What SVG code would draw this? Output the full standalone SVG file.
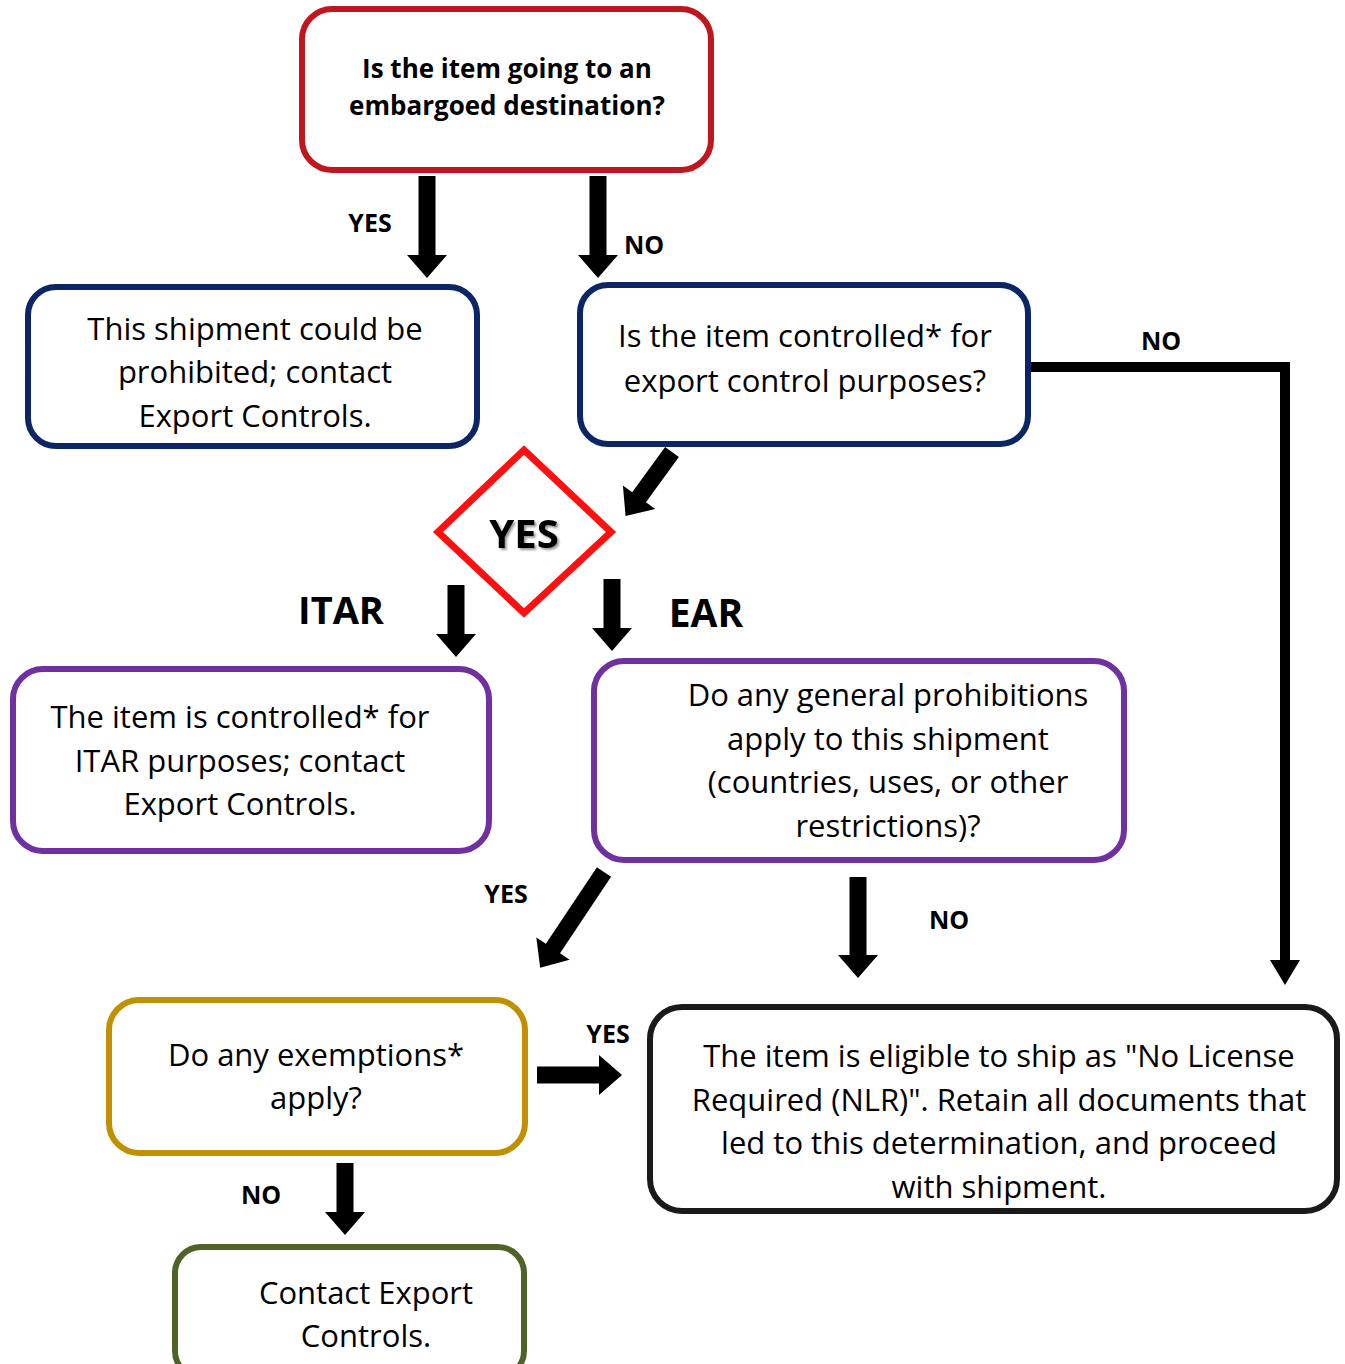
<svg xmlns="http://www.w3.org/2000/svg" width="1345" height="1364" viewBox="0 0 1345 1364">
<defs>
<filter id="shadow" x="-20%" y="-20%" width="140%" height="140%">
<feDropShadow dx="2" dy="2" stdDeviation="1.2" flood-color="#000" flood-opacity="0.4"/>
</filter>
</defs>
<style>
.box{fill:#fff;stroke-width:6}
.t{font-family:"Open Sans","Liberation Sans",sans-serif;font-size:31px;fill:#000;text-anchor:middle}
.b{font-family:"Open Sans","Liberation Sans",sans-serif;font-weight:bold;fill:#000;text-anchor:middle}
.lbl{font-size:25px}
.arrow{fill:#000}
</style>
<rect width="1345" height="1364" fill="#fff"/>
<g id="connectors">
<path class="arrow" d="M418.5,176 H435.5 V255 H447 L427,278 L407,255 H418.5 Z"/>
<path class="arrow" d="M589.5,176 H606.5 V255 H618 L598,278 L578,255 H589.5 Z"/>
<path class="arrow" d="M-8.5,0 H8.5 V56 H20 L0,79 L-20,56 H-8.5 Z" transform="translate(672,452) rotate(36)"/>
<path class="arrow" d="M447.5,585 H464.5 V634 H476 L456,657 L436,634 H447.5 Z"/>
<path class="arrow" d="M603.5,579 H620.5 V628 H632 L612,651 L592,628 H603.5 Z"/>
<path class="arrow" d="M-8.5,0 H8.5 V92 H20 L0,115 L-20,92 H-8.5 Z" transform="translate(604,872) rotate(33.7)"/>
<path class="arrow" d="M849.5,877 H866.5 V955 H878 L858,978 L838,955 H849.5 Z"/>
<path class="arrow" d="M537,1066.5 V1083.5 H599 V1095 L622,1075 L599,1055 V1066.5 Z"/>
<path class="arrow" d="M336.5,1163 H353.5 V1212 H365 L345,1235 L325,1212 H336.5 Z"/>
<path d="M1030,367 H1285 V962" fill="none" stroke="#000" stroke-width="10"/>
<path class="arrow" d="M1270,960 H1300 L1285,985 Z"/>
<text class="b lbl" x="370" y="232">YES</text>
<text class="b lbl" x="644" y="254">NO</text>
<text class="b lbl" x="1161" y="350">NO</text>
<text class="b" x="341" y="624" font-size="38">ITAR</text>
<text class="b" x="706" y="627" font-size="39">EAR</text>
<text class="b lbl" x="506" y="903">YES</text>
<text class="b lbl" x="949" y="929">NO</text>
<text class="b lbl" x="608" y="1043">YES</text>
<text class="b lbl" x="261" y="1204">NO</text>
</g>
<g id="n1">
<rect class="box" x="302" y="9" width="409" height="161" rx="30" stroke="#C0171F" stroke-width="7"/>
<text class="b" font-size="26"><tspan x="507" y="78">Is the item going to an</tspan><tspan x="507" y="115">embargoed destination?</tspan></text>
</g>
<g id="n2">
<rect class="box" x="28" y="287" width="449" height="159" rx="28" stroke="#0B2565"/>
<text class="t"><tspan x="255" y="340">This shipment could be</tspan><tspan x="255" y="383">prohibited; contact</tspan><tspan x="255" y="427">Export Controls.</tspan></text>
</g>
<g id="n3">
<rect class="box" x="580" y="285" width="448" height="159" rx="28" stroke="#0B2565"/>
<text class="t"><tspan x="805" y="347">Is the item controlled* for</tspan><tspan x="805" y="392">export control purposes?</tspan></text>
</g>
<g id="n4">
<polygon points="524,450 611,532 524,613 438,532" fill="#fff" stroke="#FF1010" stroke-width="7"/>
<text class="b" x="524" y="548" font-size="40" filter="url(#shadow)">YES</text>
</g>
<g id="n5">
<rect class="box" x="13" y="669" width="476" height="182" rx="30" stroke="#7030A0"/>
<text class="t"><tspan x="240" y="728">The item is controlled* for</tspan><tspan x="240" y="772">ITAR purposes; contact</tspan><tspan x="240" y="815">Export Controls.</tspan></text>
</g>
<g id="n6">
<rect class="box" x="594" y="661" width="530" height="199" rx="30" stroke="#7030A0"/>
<text class="t"><tspan x="888" y="706">Do any general prohibitions</tspan><tspan x="888" y="750">apply to this shipment</tspan><tspan x="888" y="793">(countries, uses, or other</tspan><tspan x="888" y="837">restrictions)?</tspan></text>
</g>
<g id="n7">
<rect class="box" x="109" y="1000" width="416" height="153" rx="30" stroke="#BF9000"/>
<text class="t"><tspan x="316" y="1066">Do any exemptions*</tspan><tspan x="316" y="1109">apply?</tspan></text>
</g>
<g id="n8">
<rect class="box" x="650" y="1007" width="687" height="204" rx="32" stroke="#1a1a1a"/>
<text class="t"><tspan x="999" y="1067">The item is eligible to ship as "No License</tspan><tspan x="999" y="1111">Required (NLR)". Retain all documents that</tspan><tspan x="999" y="1154">led to this determination, and proceed</tspan><tspan x="999" y="1198">with shipment.</tspan></text>
</g>
<g id="n9">
<rect class="box" x="175" y="1247" width="349" height="130" rx="26" stroke="#4F6228"/>
<text class="t"><tspan x="366" y="1304">Contact Export</tspan><tspan x="366" y="1347">Controls.</tspan></text>
</g>
</svg>
